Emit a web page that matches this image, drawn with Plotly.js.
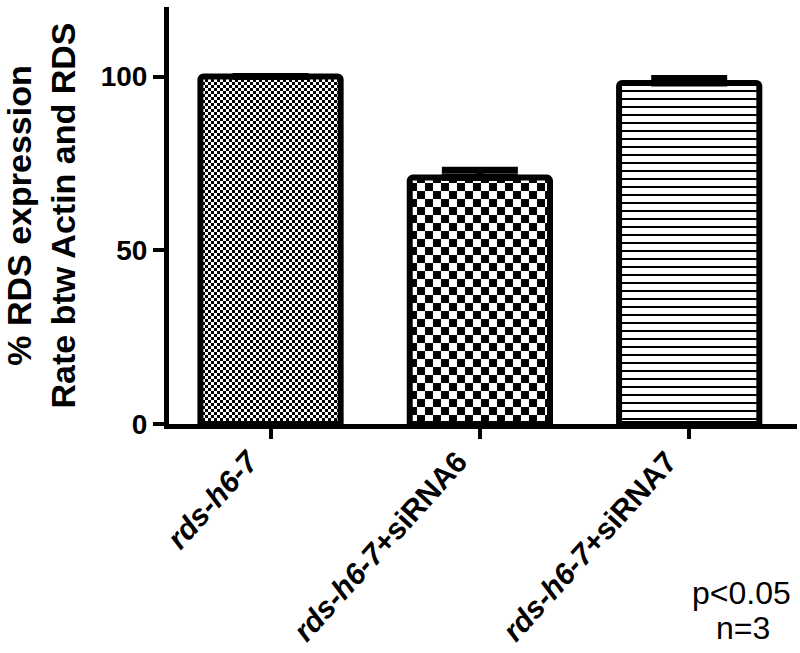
<!DOCTYPE html>
<html><head><meta charset="utf-8">
<script src="https://cdn.plot.ly/plotly-3.0.1.min.js"></script>
<style>body{margin:0;background:#fff}#chart{width:800px;height:653px}</style>
</head><body><div id="chart"></div>
<script>
// ---- data ----
const categories = ['rds-h6-7', 'rds-h6-7+siRNA6', 'rds-h6-7+siRNA7'];
const tickLabels = ['<i>rds-h6-7</i>', '<i>rds-h6-7</i>+siRNA6', '<i>rds-h6-7</i>+siRNA7'];
const values = [100, 70.9, 98.1];
const errorsPlus = [0, 2.1, 1.3];
const errorsMinus = [0, 0, 0];
const yTickVals = [0, 50, 100];
const yTitle = '% RDS expression<br>Rate btw Actin and RDS';
const noteLines = ['p<0.05', 'n=3'];

// ---- styling ----
const FONT = 'Liberation Sans, Arial, sans-serif';
const checkerSizes = [3, 8, 0]; // checker square size per bar (0 = keep plotly pattern)

const data = [{
  type: 'bar',
  x: categories,
  y: values,
  width: 0.67,
  marker: {
    color: 'white',
    line: {color: 'black', width: 6},
    cornerradius: 3,
    pattern: {
      shape: ['.', '.', '-'],
      size: [6, 16, 8],
      solidity: [0.5, 0.5, 0.25],
      fgcolor: 'black',
      bgcolor: 'white',
      fillmode: 'replace'
    }
  },
  error_y: {
    type: 'data', symmetric: false,
    array: errorsPlus, arrayminus: errorsMinus,
    color: 'black', thickness: 7, width: 38
  },
  hoverinfo: 'none'
}];

const layout = {
  width: 800, height: 653,
  margin: {l: 169, r: 3, t: 7, b: 229},
  paper_bgcolor: 'white', plot_bgcolor: 'white',
  showlegend: false,
  xaxis: {
    type: 'category',
    range: [-0.485, 2.515],
    tickvals: categories, ticktext: tickLabels,
    tickangle: -48,
    ticklabelshift: -22,
    ticklabelstandoff: -7,
    tickfont: {family: FONT, size: 30, color: 'black', weight: 'bold'},
    showline: true, linewidth: 5, linecolor: 'black',
    ticks: 'outside', ticklen: 10, tickwidth: 4, tickcolor: 'black',
    showgrid: false, zeroline: false
  },
  yaxis: {
    range: [0, 120],
    tickvals: yTickVals,
    tickfont: {family: FONT, size: 28, color: 'black', weight: 'bold'},
    showline: true, linewidth: 5, linecolor: 'black',
    ticks: 'outside', ticklen: 11, tickwidth: 4, tickcolor: 'black',
    showgrid: false, zeroline: false,
    title: {text: yTitle, font: {family: FONT, size: 34, color: 'black', weight: 'bold'}, standoff: 20}
  },
  annotations: [
    {text: noteLines[0], xref: 'paper', yref: 'paper', x: 0.9115, y: -0.405, xanchor: 'center', yanchor: 'middle',
     showarrow: false, font: {family: FONT, size: 32, color: 'black'}},
    {text: noteLines[1], xref: 'paper', yref: 'paper', x: 0.9139, y: -0.49, xanchor: 'center', yanchor: 'middle',
     showarrow: false, font: {family: FONT, size: 32, color: 'black'}}
  ]
};

Plotly.newPlot('chart', data, layout, {staticPlot: true, displayModeBar: false}).then(function(gd) {
  const NS = 'http://www.w3.org/2000/svg';
  const paths = gd.querySelectorAll('.barlayer .trace .point path');
  paths.forEach(function(p, i) {
    const s = checkerSizes[i];
    if (!s) return;
    const fill = p.style.fill || p.getAttribute('fill') || '';
    const m = /#([^"')]+)/.exec(fill);
    if (!m) return;
    const pat = document.getElementById(m[1]);
    if (!pat) return;
    while (pat.firstChild) pat.removeChild(pat.firstChild);
    pat.setAttribute('width', 2 * s);
    pat.setAttribute('height', 2 * s);
    pat.setAttribute('patternUnits', 'userSpaceOnUse');
    function rect(x, y, w, h, c) {
      const r = document.createElementNS(NS, 'rect');
      r.setAttribute('x', x); r.setAttribute('y', y);
      r.setAttribute('width', w); r.setAttribute('height', h);
      r.setAttribute('fill', c);
      r.setAttribute('shape-rendering', 'crispEdges');
      pat.appendChild(r);
    }
    rect(0, 0, 2 * s, 2 * s, 'white');
    rect(0, 0, s, s, 'black');
    rect(s, s, s, s, 'black');
  });
});
</script>
</body></html>
